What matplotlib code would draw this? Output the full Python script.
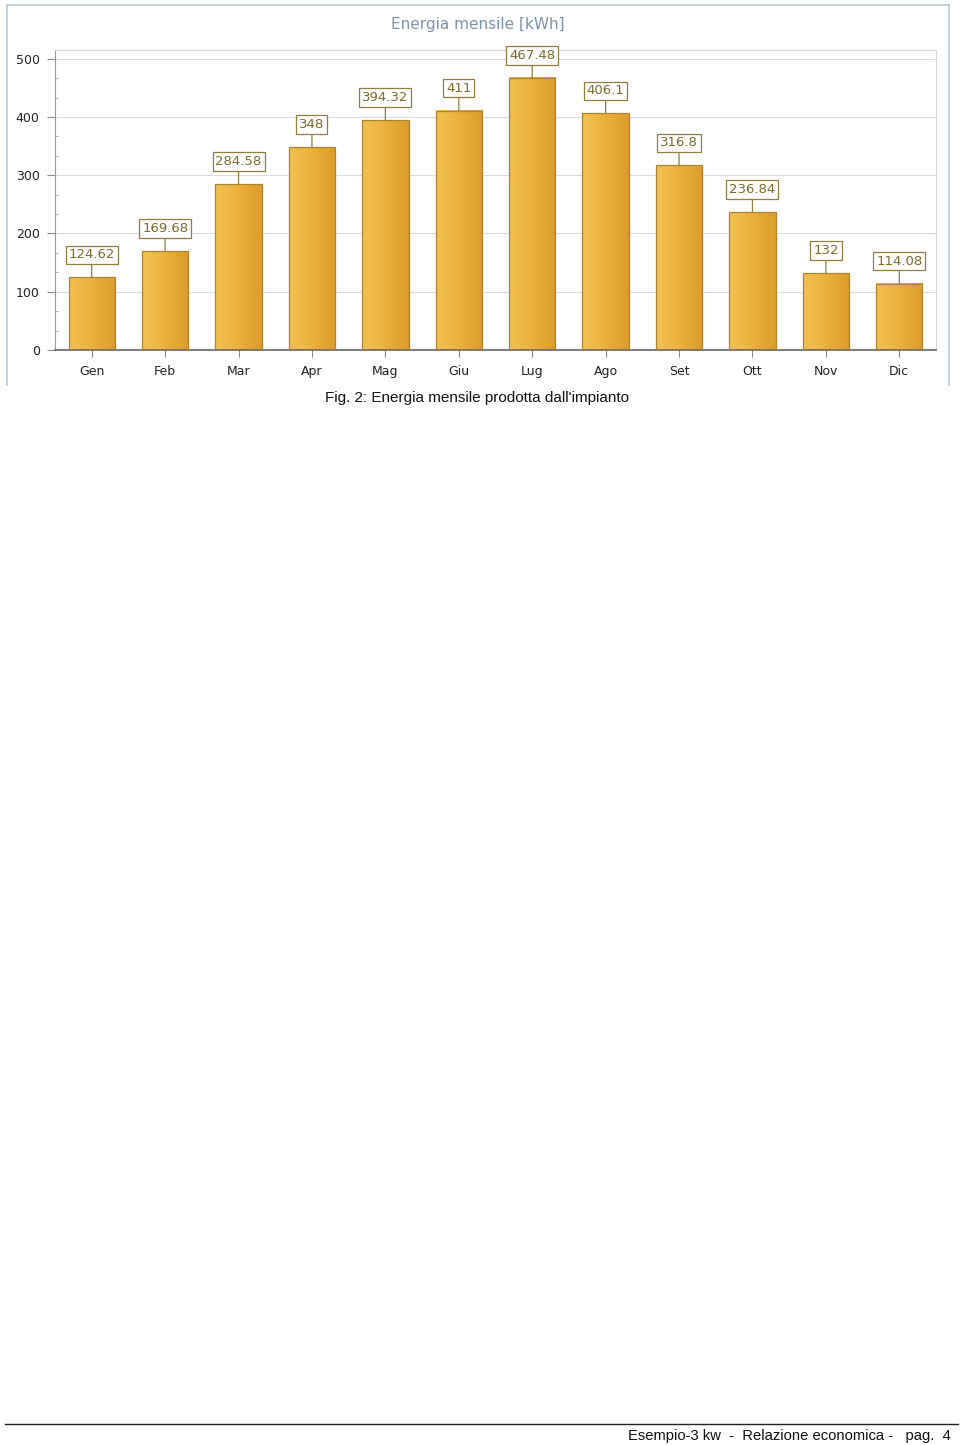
import numpy as np
import matplotlib
matplotlib.use('Agg')
import matplotlib.pyplot as plt
from matplotlib.ticker import MultipleLocator
from matplotlib.colors import LinearSegmentedColormap
from matplotlib.lines import Line2D

months = ['Gen', 'Feb', 'Mar', 'Apr', 'Mag', 'Giu', 'Lug', 'Ago', 'Set', 'Ott', 'Nov', 'Dic']
energy = [124.62, 169.68, 284.58, 348, 394.32, 411, 467.48, 406.1, 316.8, 236.84, 132, 114.08]
value_labels = ['124.62', '169.68', '284.58', '348', '394.32', '411', '467.48', '406.1',
                '316.8', '236.84', '132', '114.08']
title = 'Energia mensile [kWh]'
caption = "Fig. 2: Energia mensile prodotta dall'impianto"
footer = 'Esempio-3 kw  -  Relazione economica -   pag.  4'

W, H = 960, 1445
fig = plt.figure(figsize=(W / 100, H / 100), dpi=100)

def fx(px):
    return px / W

def fy(py):
    return 1 - py / H

# outer chart frame (left, top, right)
frame_col = '#b9c7d6'
for xs, ys in [((7, 7), (5, 385)), ((7, 949), (5, 5)), ((949, 949), (5, 385))]:
    fig.add_artist(Line2D([fx(x) for x in xs], [fy(y) for y in ys], color=frame_col, lw=1.2))

ax = fig.add_axes([fx(55), fy(350), fx(936) - fx(55), fy(50) - fy(350)])

x = np.arange(len(months))
bars = ax.bar(x, energy, width=0.63, color='none', edgecolor='#a8852e', linewidth=0.9, zorder=3)

# horizontal gradient inside each bar
grad_cmap = LinearSegmentedColormap.from_list('gold', ['#f3c153', '#efb744', '#e6a934', '#dc9d2b'])
grad = np.linspace(0, 1, 64).reshape(1, -1)
for b in bars:
    x0, y0 = b.get_x(), b.get_y()
    ax.imshow(grad, cmap=grad_cmap, aspect='auto', zorder=2,
              extent=[x0, x0 + b.get_width(), y0, y0 + b.get_height()], interpolation='bicubic')

# value labels in boxes with leader line
for xi, val, lab in zip(x, energy, value_labels):
    ax.annotate(lab, xy=(xi, val), xytext=(0, 16), textcoords='offset pixels',
                ha='center', va='bottom', fontsize=9.5, color='#7a6c2e', family='DejaVu Sans',
                bbox=dict(boxstyle='square,pad=0.22', fc='white', ec='#8f7f3c', lw=0.9),
                arrowprops=dict(arrowstyle='-', color='#8f7f3c', lw=0.9, shrinkA=0, shrinkB=0),
                zorder=4)

ax.set_xlim(-0.5, len(months) - 0.5)
ax.set_ylim(0, 515)
ax.set_xticks(x)
ax.set_xticklabels(months, fontsize=9, color='#222222')
ax.set_yticks([0, 100, 200, 300, 400, 500])
ax.tick_params(axis='y', labelsize=9, labelcolor='#222222', length=6, color='#888888', pad=5)
ax.tick_params(axis='x', length=5, color='#888888', pad=6)
ax.yaxis.set_minor_locator(MultipleLocator(100 / 3))
ax.tick_params(axis='y', which='minor', length=2, direction='in', color='#aaaaaa')

ax.grid(axis='y', color='#d6dce2', lw=0.8, zorder=0)
ax.set_axisbelow(True)
ax.spines['top'].set_color('#d0d8e0')
ax.spines['right'].set_color('#d0d8e0')
ax.spines['left'].set_color('#9a9a9a')
ax.spines['bottom'].set_color('#666666')
ax.spines['bottom'].set_linewidth(1.2)

fig.text(fx(478), fy(24), title, ha='center', va='center', fontsize=11, color='#7e94aa',
         family='DejaVu Sans')

fig.text(fx(477), fy(398), caption, ha='center', va='center', fontsize=11, color='#111111',
         family='Liberation Sans')

fig.add_artist(Line2D([fx(5), fx(958)], [fy(1424), fy(1424)], color='#222222', lw=1.0))
fig.text(fx(951), fy(1436), footer, ha='right', va='center', fontsize=10.6, color='#111111',
         family='Liberation Sans')

fig.savefig('out.png', dpi=100)
